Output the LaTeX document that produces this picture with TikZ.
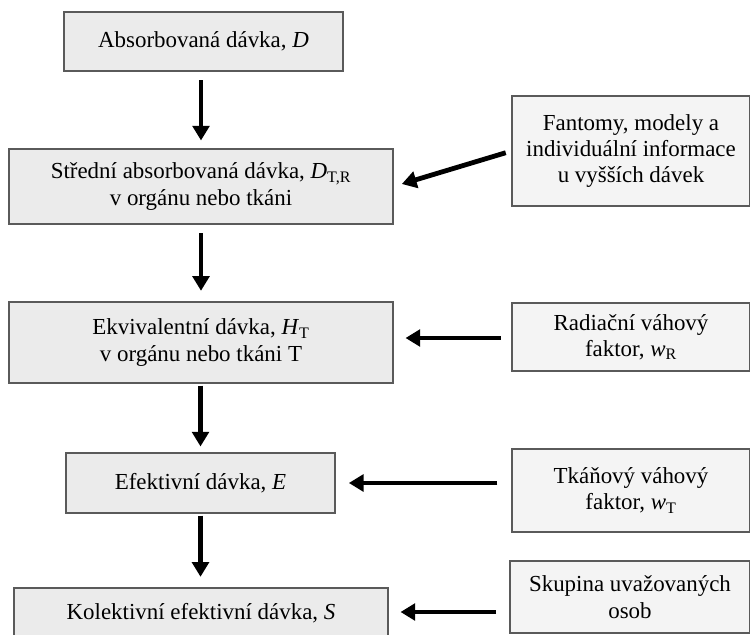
\documentclass[tikz,border=0pt]{standalone}
\usepackage{fontspec}
\setmainfont{Liberation Serif}
\usetikzlibrary{arrows.meta,positioning}

\definecolor{leftfill}{HTML}{EBEBEB}
\definecolor{rightfill}{HTML}{F4F4F4}
\definecolor{boxline}{HTML}{5A5A5A}

\tikzset{
  dosebox/.style={draw=boxline, line width=0.8pt, fill=leftfill, align=center,
    inner sep=2pt, font=\fontsize{17.2}{19.8}\selectfont},
  factorbox/.style={dosebox, fill=rightfill},
  flow/.style={line width=3.6pt, -{Triangle[length=11pt,width=12.5pt]}}
}

\begin{document}
\begin{tikzpicture}[x=0.75pt,y=-0.75pt]
  \useasboundingbox (0,0) rectangle (750,635);
  % left column
  \node[dosebox, minimum width=279*0.75pt, minimum height=59*0.75pt] (absorb) at (203.5,41.5) {Absorbovaná dávka, \textit{D}};
  \node[dosebox, minimum width=384*0.75pt, minimum height=75*0.75pt] (mean) at (201,186.5)
    {Střední absorbovaná dávka, \textit{D}\textsubscript{T,R}\\ v orgánu nebo tkáni};
  \node[dosebox, minimum width=384*0.75pt, minimum height=81*0.75pt] (equiv) at (201,342.5)
    {Ekvivalentní dávka, \textit{H}\textsubscript{T}\\ v orgánu nebo tkáni T};
  \node[dosebox, minimum width=269*0.75pt, minimum height=60*0.75pt] (eff) at (200.5,483) {Efektivní dávka, \textit{E}};
  \node[dosebox, minimum width=374*0.75pt, minimum height=50*0.75pt] (coll) at (201,613) {Kolektivní efektivní dávka, \textit{S}};
  % right column
  \node[factorbox, minimum width=238*0.75pt, minimum height=110*0.75pt] (phantom) at (631,151)
    {Fantomy, modely a\\ individuální informace\\ u vyšších dávek};
  \node[factorbox, minimum width=238*0.75pt, minimum height=68*0.75pt] (wr) at (631,337)
    {Radiační váhový\\ faktor, \textit{w}\textsubscript{R}};
  \node[factorbox, minimum width=238*0.75pt, minimum height=83*0.75pt] (wt) at (631,490.5)
    {Tkáňový váhový\\ faktor, \textit{w}\textsubscript{T}};
  \node[factorbox, minimum width=240*0.75pt, minimum height=72*0.75pt] (group) at (630,597)
    {Skupina uvažovaných\\ osob};
  % arrows
  \draw[flow, shorten <=6.5pt, shorten >=6pt] (absorb.south -| mean.north) -- (mean.north);
  \draw[flow, shorten <=6.5pt, shorten >=8pt] (mean) -- (equiv);
  \draw[flow, shorten <=1.5pt, shorten >=4.5pt] (equiv.south -| eff.north) -- (eff.north);
  \draw[flow, shorten <=1.5pt, shorten >=8pt] (eff.south) -- (eff.south |- coll.north);
  \draw[flow, shorten <=4.5pt, shorten >=6.5pt] (phantom.west) -- (mean.east);
  \draw[flow, shorten <=8pt, shorten >=9pt] (wr.west |- 0,338) -- (mean.east |- 0,338);
  \draw[flow, shorten <=10.5pt, shorten >=10pt] (wt.west |- eff.east) -- (eff.east);
  \draw[flow, shorten <=10pt, shorten >=9pt] (group.west |- 0,612) -- (coll.east |- 0,612);
\end{tikzpicture}
\end{document}
